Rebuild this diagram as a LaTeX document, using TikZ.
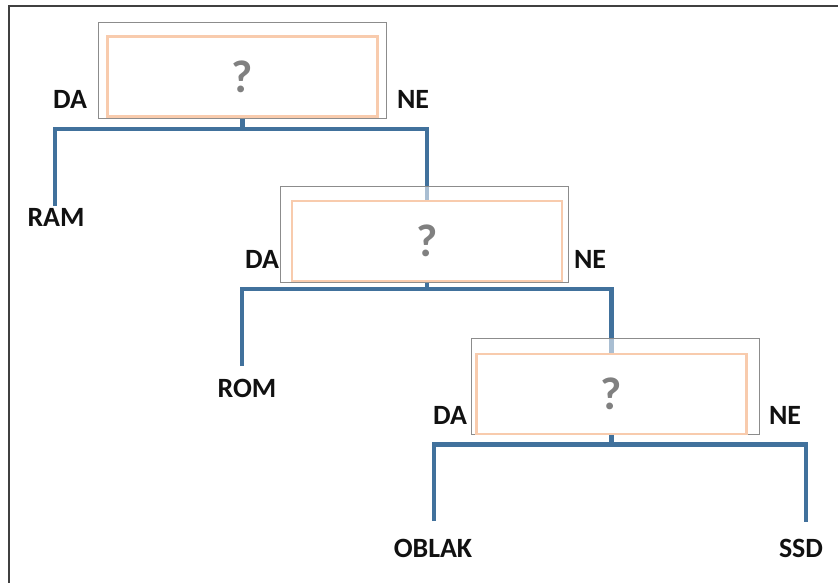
\documentclass[tikz,border=0pt]{standalone}
\usepackage{fontspec}
\setmainfont{Carlito}
\definecolor{branchblue}{HTML}{41719C}
\definecolor{peach}{HTML}{F8CBAD}
\definecolor{boxgray}{HTML}{8C8C8C}
\definecolor{framegray}{HTML}{404040}
\definecolor{qgray}{HTML}{808080}
\definecolor{txt}{HTML}{111111}
\begin{document}
\begin{tikzpicture}[x=1bp,y=-1bp,
  outerbox/.style={draw=boxgray,line width=0.8bp,fill=white,fill opacity=0.55,minimum width=288bp,minimum height=96bp,inner sep=0pt},
  innerbox/.style={draw=peach,line width=2.5bp,minimum width=270bp,minimum height=80bp,inner sep=0pt,text=qgray,font=\fontsize{46}{50}\selectfont\bfseries},
  lbl/.style={anchor=base,inner sep=0pt,text=txt,font=\fontsize{28}{32}\selectfont\bfseries},
  branch/.style={draw=branchblue,line width=4.6bp,line join=miter,line cap=butt}]
\useasboundingbox (0,0) rectangle (838,583);
\draw[framegray,line width=1.5bp] (9,590) -- (9,6) -- (845,6);

% box positions (named coordinates for the box centres)
\coordinate (c1o) at (242,70);
\coordinate (c1i) at (242.5,76.5);
\coordinate (c2o) at (424,234.5);
\coordinate (c2i) at (427,241);
\coordinate (c3o) at (615.5,386.5);
\coordinate (c3i) at (611.5,394);

% inner box placeholders for anchors
\path (c1i) node[minimum width=270bp,minimum height=80bp,inner sep=0pt] (q1) {};
\path (c2i) node[minimum width=270bp,minimum height=80bp,inner sep=0pt] (q2) {};
\path (c3i) node[minimum width=270bp,minimum height=80bp,inner sep=0pt] (q3) {};

% end points of the branches
\coordinate (ram) at (55,206);
\coordinate (rom) at (242,366);
\coordinate (oblak) at (434,521);
\coordinate (ssd) at (806,522);
\coordinate (j1) at (242.5,129);
\coordinate (j2) at (427,289);
\coordinate (j3) at (611.5,444.5);

% branches
\draw[branch] (ram) |- (j1) -| (q2.north);
\draw[branch] (q1.south) -- (j1);
\draw[branch] (rom) |- (j2) -| (q3.north);
\draw[branch] (q2.south) -- (j2);
\draw[branch] (oblak) |- (j3) -| (ssd);
\draw[branch] (q3.south) -- (j3);

% boxes
\node[outerbox] (b1) at (c1o) {};
\node[innerbox] (i1) at (c1i) {?};
\node[outerbox] (b2) at (c2o) {};
\node[innerbox] (i2) at (c2i) {?};
\node[outerbox] (b3) at (c3o) {};
\node[innerbox] (i3) at (c3i) {?};

% labels
\node[lbl] (da1) at (70,109) {DA};
\node[lbl] (ne1) at (413,109) {NE};
\node[lbl] (lram) at (56,227) {RAM};
\node[lbl] (da2) at (262,268) {DA};
\node[lbl] (ne2) at (590,268) {NE};
\node[lbl] (lrom) at (247,397) {ROM};
\node[lbl] (da3) at (450,424) {DA};
\node[lbl] (ne3) at (785,424) {NE};
\node[lbl] (loblak) at (433,557) {OBLAK};
\node[lbl] (lssd) at (801,557) {SSD};
\end{tikzpicture}
\end{document}
